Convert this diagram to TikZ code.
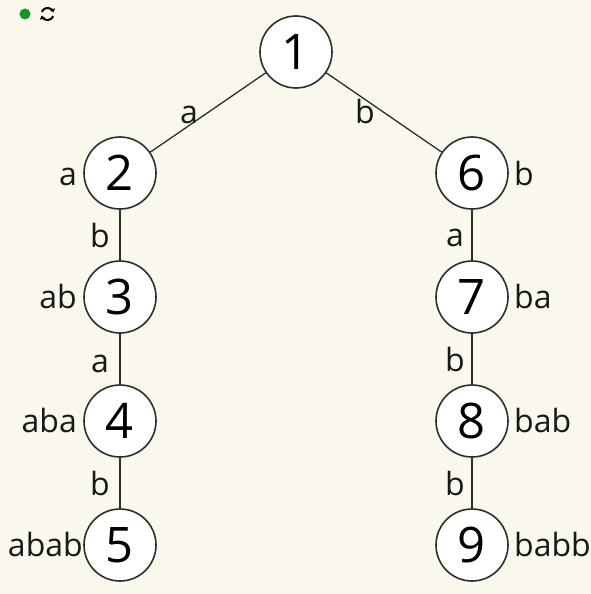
\documentclass[tikz,border=0pt]{standalone}
\usepackage{fontspec}
\setmainfont{Open Sans}
\usetikzlibrary{arrows.meta}
\definecolor{bg}{RGB}{250,248,237}
\definecolor{ln}{RGB}{45,45,45}
\definecolor{dotgreen}{RGB}{20,150,40}
\begin{document}
\begin{tikzpicture}[x=1pt,y=-1pt,
  st/.style={circle, draw=ln, line width=1.6pt, fill=white, minimum size=72pt, inner sep=0pt, font=\fontsize{49}{49}\selectfont},
  lb/.style={font=\fontsize{32}{32}\selectfont, inner sep=0pt, text=black!90},
  ed/.style={draw=ln, line width=1.3pt},
  refresh/.style={line width=2pt, -{Triangle[length=3.5pt,width=5.5pt]}}]
\fill[bg] (0,0) rectangle (591,594);
\useasboundingbox (0,0) rectangle (591,594);
% status icons
\fill[dotgreen] (25,14) circle (5.5);
\draw[refresh] (47.5,14) ++(20:6) arc[start angle=20, end angle=165, radius=6];
\draw[refresh] (47.5,14) ++(200:6) arc[start angle=200, end angle=345, radius=6];
% nodes
\node[st] (n1) at (296,52) {1};
\node[st] (n2) at (120,173) {2};
\node[st] (n3) at (120,297) {3};
\node[st] (n4) at (120,421) {4};
\node[st] (n5) at (120,545) {5};
\node[st] (n6) at (472,173) {6};
\node[st] (n7) at (472,297) {7};
\node[st] (n8) at (472,421) {8};
\node[st] (n9) at (472,545) {9};
% edges
\path[ed] (n1) -- (n2);
\path[ed] (n1) -- (n6);
\path[ed] (n2) -- (n3);
\path[ed] (n3) -- (n4);
\path[ed] (n4) -- (n5);
\path[ed] (n6) -- (n7);
\path[ed] (n7) -- (n8);
\path[ed] (n8) -- (n9);
% edge labels
\node[lb, anchor=base] (e12) at (189,123) {a};
\node[lb, anchor=base] (e16) at (365,123) {b};
\node[lb, anchor=base] (e23) at (100,247) {b};
\node[lb, anchor=base] (e34) at (100,372) {a};
\node[lb, anchor=base] (e45) at (100,495) {b};
\node[lb, anchor=base] (e67) at (455,246) {a};
\node[lb, anchor=base] (e78) at (455,371) {b};
\node[lb, anchor=base] (e89) at (455,495) {b};
% node labels
\node[lb, anchor=base east] (l2) at (77,185) {a};
\node[lb, anchor=base east] (l3) at (77,308) {ab};
\node[lb, anchor=base east] (l4) at (77,432) {aba};
\node[lb, anchor=base east] (l5) at (83,556) {abab};
\node[lb, anchor=base west] (l6) at (514,185) {b};
\node[lb, anchor=base west] (l7) at (514,308) {ba};
\node[lb, anchor=base west] (l8) at (514,432) {bab};
\node[lb, anchor=base west] (l9) at (514,556) {babb};
\end{tikzpicture}
\end{document}
